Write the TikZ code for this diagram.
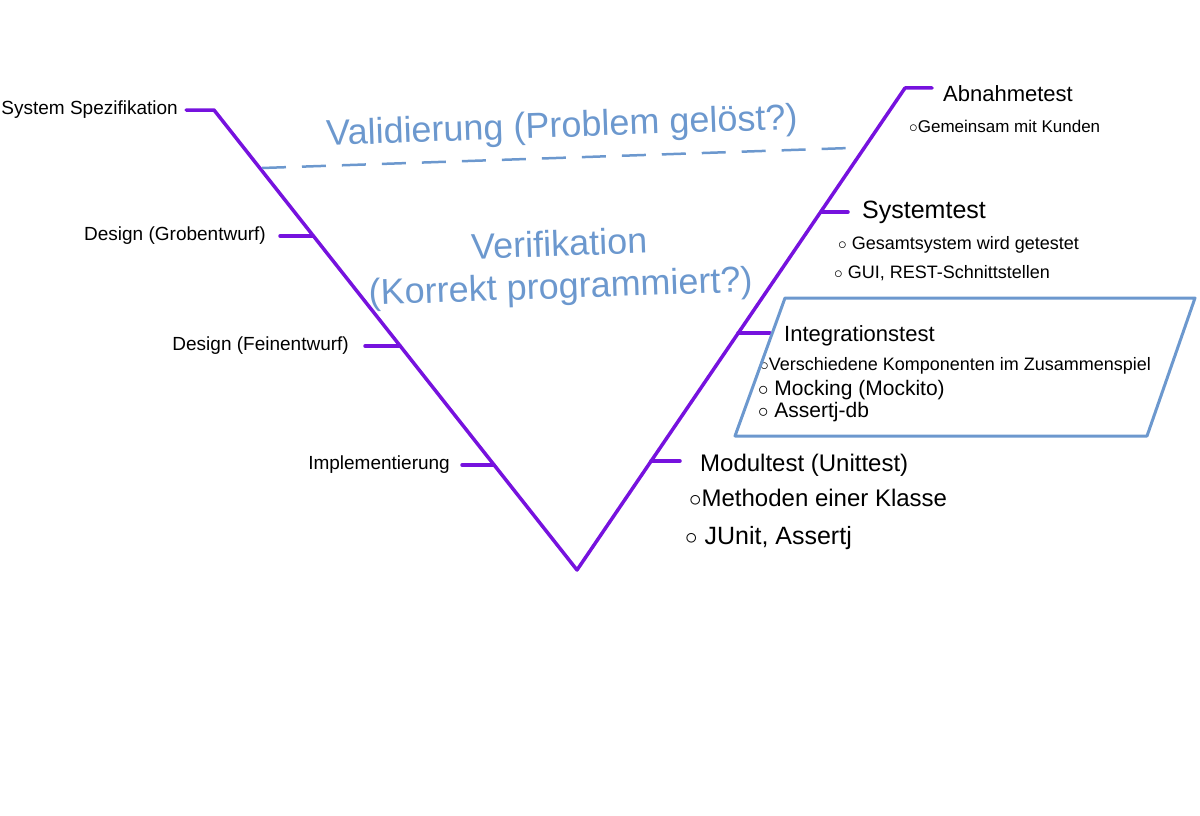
\documentclass[tikz,border=0pt]{standalone}
\usepackage{fontspec}
\setmainfont{Liberation Sans}
\usetikzlibrary{positioning}
\definecolor{vviolet}{RGB}{118,18,222}
\definecolor{vblue}{RGB}{108,152,206}

\begin{document}
\begin{tikzpicture}[
  x=1pt, y=-1pt,
  vline/.style={vviolet, line width=3.5pt, line cap=round, line join=round},
  phase/.style={font=\fontsize{19}{22}\selectfont, inner sep=2pt},
  stage/.style={font=\fontsize{22}{26}\selectfont, inner sep=2pt},
  item/.style={font=\fontsize{18}{21}\selectfont, inner sep=1pt, anchor=west},
  note/.style={vblue, font=\fontsize{36}{42}\selectfont, align=center},
  itbox/.style={vblue, line width=3pt, line join=round}
]
\useasboundingbox (0,0) rectangle (1200,816);

% the V
\coordinate (top-l) at (214,110);
\coordinate (bottom) at (577,570);
\coordinate (top-r) at (905,88);
\coordinate (spec-t) at (186,110);
\coordinate (abn-t) at (932,88);
\draw[vline] (spec-t) -- (top-l) -- (bottom) -- (top-r) -- (abn-t);

% ticks, left arm
\coordinate (grob-a) at (313,236);
\coordinate (grob-t) at (280,236);
\coordinate (fein-a) at (400,346);
\coordinate (fein-t) at (365,346);
\coordinate (impl-a) at (494,465);
\coordinate (impl-t) at (462,465);
\draw[vline] (grob-t) -- (grob-a);
\draw[vline] (fein-t) -- (fein-a);
\draw[vline] (impl-t) -- (impl-a);

% ticks, right arm
\coordinate (sys-a) at (821,212);
\coordinate (sys-t) at (848,212);
\coordinate (int-a) at (738,333);
\coordinate (int-t) at (770,333);
\coordinate (mod-a) at (651,461);
\coordinate (mod-t) at (680,461);
\draw[vline] (sys-a) -- (sys-t);
\draw[vline] (int-a) -- (int-t);
\draw[vline] (mod-a) -- (mod-t);

% left labels
\node[phase, left=6pt of spec-t] (spec) {System Spezifikation};
\node[phase, left=12pt of grob-t] (grob) {Design (Grobentwurf)};
\node[phase, left=14pt of fein-t] (fein) {Design (Feinentwurf)};
\node[phase, left=10pt of impl-t] (impl) {Implementierung};

% right labels
\node[stage, right=9pt of abn-t, yshift=-6pt] (abn) {Abnahmetest};
\node[item, font=\fontsize{17}{20}\selectfont] (abn1) at (908,126) {$\circ$Gemeinsam mit Kunden};
\node[stage, font=\fontsize{25}{30}\selectfont, right=12pt of sys-t] (sys) {Systemtest};
\node[item] (sys1) at (837,245) {$\circ$ Gesamtsystem wird getestet};
\node[item] (sys2) at (833,273) {$\circ$ GUI, REST-Schnittstellen};
\node[stage, right=12pt of int-t, yshift=-3pt] (int) {Integrationstest};
\node[item] (int1) at (759,366) {$\circ$Verschiedene Komponenten im Zusammenspiel};
\node[item, font=\fontsize{21}{24}\selectfont] (int2) at (757,390) {$\circ$ Mocking (Mockito)};
\node[item, font=\fontsize{21}{24}\selectfont] (int3) at (757,412) {$\circ$ Assertj-db};
\node[stage, font=\fontsize{24}{28}\selectfont, right=18pt of mod-t, yshift=-4pt] (mod) {Modultest (Unittest)};
\node[item, font=\fontsize{24}{28}\selectfont] (mod1) at (688,498) {$\circ$Methoden einer Klasse};
\node[item, font=\fontsize{25}{30}\selectfont] (mod2) at (684,538) {$\circ$ JUnit, Assertj};

% box round the integration test
\coordinate (box-nw) at (785,298);
\coordinate (box-ne) at (1195,298);
\coordinate (box-se) at (1147,436);
\coordinate (box-sw) at (735,436);
\draw[itbox] (box-nw) -- (box-ne) -- (box-se) -- (box-sw) -- cycle;

% validation and verification
\coordinate (val-l) at (262,168);
\coordinate (val-r) at (850,148);
\draw[vblue, line width=2.5pt, dash pattern=on 24pt off 16pt] (val-l) -- (val-r);
\node[note, rotate=2] (val) at (562,128) {Validierung (Problem gelöst?)};
\node[note, rotate=2] (ver) at (560,268) {Verifikation\\(Korrekt programmiert?)};
\end{tikzpicture}
\end{document}
